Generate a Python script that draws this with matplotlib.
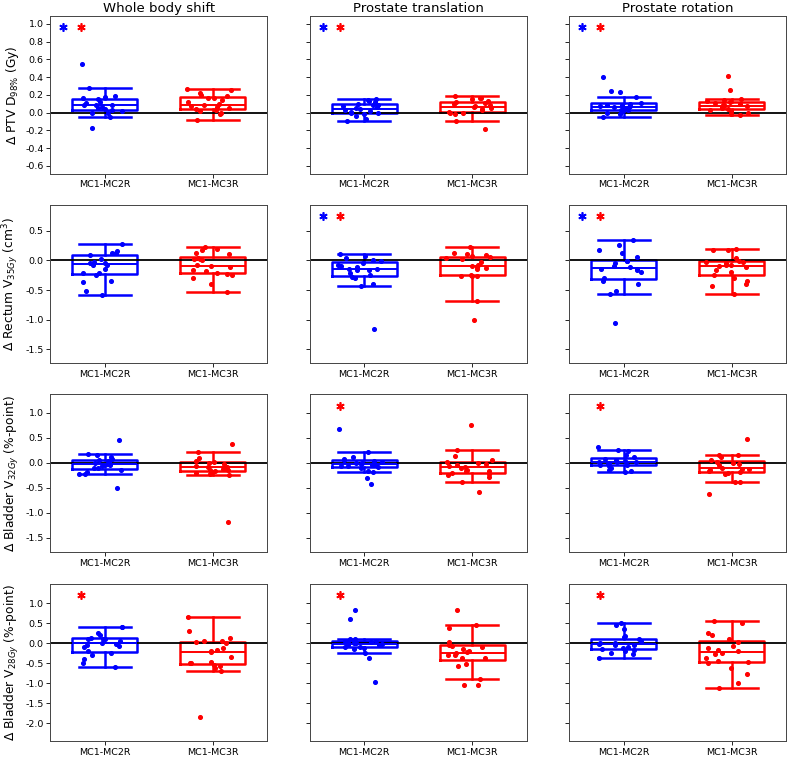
import numpy as np
import matplotlib
matplotlib.use("Agg")
import matplotlib.pyplot as plt

groups = ["MC1-MC2R", "MC1-MC3R"]
col_titles = ["Whole body shift", "Prostate translation", "Prostate rotation"]
row_labels = [r"$\Delta$ PTV D$_{98\%}$ (Gy)",
              r"$\Delta$ Rectum V$_{35Gy}$ (cm$^3$)",
              r"$\Delta$ Bladder V$_{32Gy}$ (%-point)",
              r"$\Delta$ Bladder V$_{28Gy}$ (%-point)"]

# PTV D98%
ptv_whole_mc2 = [0.55, 0.28, 0.19, 0.18, 0.16, 0.15, 0.12, 0.11, 0.09, 0.08, 0.08, 0.06, 0.05, 0.04, 0.03, 0.02, 0.0, -0.01, -0.05, -0.17]
ptv_whole_mc3 = [0.27, 0.26, 0.22, 0.2, 0.19, 0.17, 0.16, 0.14, 0.12, 0.1, 0.08, 0.07, 0.06, 0.05, 0.04, 0.03, 0.02, -0.01, -0.02, -0.08]
ptv_trans_mc2 = [0.15, 0.14, 0.13, 0.12, 0.1, 0.09, 0.08, 0.07, 0.06, 0.05, 0.04, 0.03, 0.02, 0.01, 0.0, -0.01, -0.02, -0.04, -0.07, -0.1]
ptv_trans_mc3 = [0.19, 0.17, 0.16, 0.15, 0.13, 0.12, 0.11, 0.1, 0.08, 0.07, 0.06, 0.05, 0.04, 0.03, 0.01, 0.0, -0.01, -0.02, -0.095, -0.18]
ptv_rot_mc2 = [0.4, 0.24, 0.23, 0.18, 0.11, 0.1, 0.09, 0.08, 0.07, 0.07, 0.06, 0.06, 0.05, 0.04, 0.03, 0.03, 0.02, 0.0, -0.02, -0.045]
ptv_rot_mc3 = [0.41, 0.26, 0.15, 0.14, 0.13, 0.12, 0.11, 0.1, 0.09, 0.08, 0.07, 0.07, 0.06, 0.05, 0.04, 0.03, 0.02, 0.0, -0.02, -0.03]

# Rectum V35Gy
rec_whole_mc2 = [0.28, 0.16, 0.13, 0.12, 0.12, 0.09, 0.02, -0.02, -0.04, -0.05, -0.07, -0.08, -0.14, -0.21, -0.22, -0.25, -0.34, -0.37, -0.52, -0.58]
rec_whole_mc3 = [0.22, 0.2, 0.18, 0.13, 0.1, 0.04, 0.03, 0.02, 0.0, -0.08, -0.1, -0.12, -0.17, -0.18, -0.21, -0.23, -0.25, -0.29, -0.39, -0.53]
rec_trans_mc2 = [0.1, 0.08, 0.04, 0.0, -0.01, -0.04, -0.07, -0.09, -0.12, -0.14, -0.15, -0.16, -0.17, -0.22, -0.25, -0.28, -0.3, -0.4, -0.43, -1.15]
rec_trans_mc3 = [0.23, 0.13, 0.11, 0.09, 0.07, 0.06, 0.04, 0.02, -0.02, -0.08, -0.1, -0.11, -0.13, -0.14, -0.25, -0.26, -0.26, -0.27, -0.69, -1.0]
rec_rot_mc2 = [0.35, 0.26, 0.17, 0.13, 0.06, -0.01, -0.01, -0.04, -0.1, -0.12, -0.14, -0.15, -0.17, -0.19, -0.3, -0.35, -0.39, -0.51, -0.57, -1.06]
rec_rot_mc3 = [0.19, 0.18, 0.17, 0.04, -0.01, -0.02, -0.03, -0.05, -0.07, -0.08, -0.1, -0.11, -0.17, -0.19, -0.24, -0.3, -0.34, -0.4, -0.44, -0.57]

# Bladder V32Gy
b32_whole_mc2 = [0.46, 0.17, 0.15, 0.11, 0.08, 0.05, 0.03, 0.02, 0.0, -0.02, -0.04, -0.05, -0.07, -0.1, -0.11, -0.15, -0.18, -0.22, -0.23, -0.51]
b32_whole_mc3 = [0.38, 0.22, 0.1, 0.04, 0.02, 0.0, -0.03, -0.06, -0.08, -0.09, -0.1, -0.12, -0.14, -0.15, -0.17, -0.19, -0.21, -0.22, -0.24, -1.19]
b32_trans_mc2 = [0.68, 0.22, 0.11, 0.07, 0.05, 0.04, 0.02, 0.0, -0.01, -0.03, -0.04, -0.05, -0.06, -0.07, -0.09, -0.1, -0.17, -0.18, -0.3, -0.42]
b32_trans_mc3 = [0.76, 0.25, 0.14, 0.05, 0.02, 0.0, -0.03, -0.05, -0.07, -0.08, -0.1, -0.14, -0.17, -0.17, -0.2, -0.22, -0.25, -0.28, -0.39, -0.58]
b32_rot_mc2 = [0.31, 0.25, 0.24, 0.15, 0.12, 0.07, 0.05, 0.03, 0.02, 0.01, 0.01, 0.0, -0.02, -0.04, -0.05, -0.06, -0.1, -0.14, -0.17, -0.18]
b32_rot_mc3 = [0.47, 0.16, 0.15, 0.11, 0.05, 0.02, 0.0, -0.02, -0.04, -0.1, -0.12, -0.13, -0.15, -0.17, -0.19, -0.2, -0.22, -0.38, -0.39, -0.63]

# Bladder V28Gy
b28_whole_mc2 = [0.42, 0.41, 0.25, 0.22, 0.13, 0.12, 0.11, 0.1, 0.05, 0.02, -0.01, -0.04, -0.06, -0.08, -0.2, -0.25, -0.3, -0.38, -0.49, -0.6]
b28_whole_mc3 = [0.66, 0.3, 0.13, 0.07, 0.06, 0.03, 0.0, -0.11, -0.17, -0.2, -0.21, -0.34, -0.46, -0.48, -0.5, -0.53, -0.57, -0.61, -0.69, -1.83]
b28_trans_mc2 = [0.84, 0.6, 0.12, 0.11, 0.07, 0.06, 0.06, 0.04, 0.02, 0.0, -0.02, -0.03, -0.05, -0.08, -0.1, -0.11, -0.15, -0.23, -0.37, -0.97]
b28_trans_mc3 = [0.84, 0.46, 0.39, 0.03, -0.03, -0.06, -0.08, -0.13, -0.2, -0.22, -0.25, -0.28, -0.3, -0.36, -0.37, -0.52, -0.56, -0.89, -1.04, -1.05]
b28_rot_mc2 = [0.5, 0.47, 0.36, 0.19, 0.16, 0.1, 0.06, 0.02, 0.0, -0.01, -0.03, -0.05, -0.08, -0.11, -0.15, -0.16, -0.2, -0.23, -0.27, -0.37]
b28_rot_mc3 = [0.55, 0.51, 0.26, 0.21, 0.1, 0.03, -0.07, -0.12, -0.16, -0.2, -0.24, -0.26, -0.36, -0.44, -0.47, -0.5, -0.62, -0.77, -1.0, -1.12]

data = [
    [(ptv_whole_mc2, ptv_whole_mc3), (ptv_trans_mc2, ptv_trans_mc3), (ptv_rot_mc2, ptv_rot_mc3)],
    [(rec_whole_mc2, rec_whole_mc3), (rec_trans_mc2, rec_trans_mc3), (rec_rot_mc2, rec_rot_mc3)],
    [(b32_whole_mc2, b32_whole_mc3), (b32_trans_mc2, b32_trans_mc3), (b32_rot_mc2, b32_rot_mc3)],
    [(b28_whole_mc2, b28_whole_mc3), (b28_trans_mc2, b28_trans_mc3), (b28_rot_mc2, b28_rot_mc3)],
]

# significance stars: (blue, red) per panel
stars = [
    [(1, 1), (1, 1), (1, 1)],
    [(0, 0), (1, 1), (1, 1)],
    [(0, 0), (0, 1), (0, 1)],
    [(0, 1), (0, 1), (0, 1)],
]

ylims = [(-0.69, 1.09), (-1.73, 0.93), (-1.79, 1.36), (-2.45, 1.49)]
yticks = [np.arange(-0.6, 1.01, 0.2), np.arange(-1.5, 0.51, 0.5),
          np.arange(-1.5, 1.01, 0.5), np.arange(-2.0, 1.01, 0.5)]
colors = ["blue", "red"]

rng = np.random.default_rng(3)  # jitter only

fig, axes = plt.subplots(4, 3, figsize=(7.88, 7.62), dpi=100)
plt.subplots_adjust(left=0.064, right=0.9975, top=0.979, bottom=0.027,
                    wspace=0.198, hspace=0.2)

for r in range(4):
    for c in range(3):
        ax = axes[r, c]
        for i, vals in enumerate(data[r][c]):
            col = colors[i]
            ax.boxplot([vals], positions=[i], widths=0.6, showfliers=False,
                       capwidths=0.48,
                       boxprops=dict(color=col, linewidth=1.8),
                       whiskerprops=dict(color=col, linewidth=1.8),
                       capprops=dict(color=col, linewidth=1.8),
                       medianprops=dict(color=col, linewidth=1.4))
            xj = i + rng.uniform(-0.24, 0.18, len(vals))
            ax.scatter(xj, vals, s=7, color=col, zorder=3)
        ax.axhline(0, color="black", linewidth=1.3, zorder=2)
        sb, sr = stars[r][c]
        if sb:
            ax.plot(-0.38, 0.93, marker=(6, 2, 0), color="blue", markersize=6,
                    mew=1.2, transform=ax.get_xaxis_transform(), clip_on=False)
        if sr:
            ax.plot(-0.22, 0.93, marker=(6, 2, 0), color="red", markersize=6,
                    mew=1.2, transform=ax.get_xaxis_transform(), clip_on=False)
        ax.set_xlim(-0.5, 1.5)
        ax.set_ylim(ylims[r])
        ax.set_yticks(yticks[r])
        ax.set_xticks([0, 1])
        ax.set_xticklabels(groups, fontsize=6.8)
        ax.tick_params(axis="both", labelsize=6.8, length=2.6, width=0.6, pad=2.2)
        for sp in ax.spines.values():
            sp.set_linewidth(0.7)
            sp.set_color("#444444")
        if c == 0:
            ax.set_ylabel(row_labels[r], fontsize=8.8, labelpad=3)
            ax.set_yticklabels(["%.1f" % t for t in yticks[r]])
        else:
            ax.set_yticklabels([])
        if r == 0:
            ax.set_title(col_titles[c], fontsize=9.5, pad=3)

plt.savefig("out.png")
